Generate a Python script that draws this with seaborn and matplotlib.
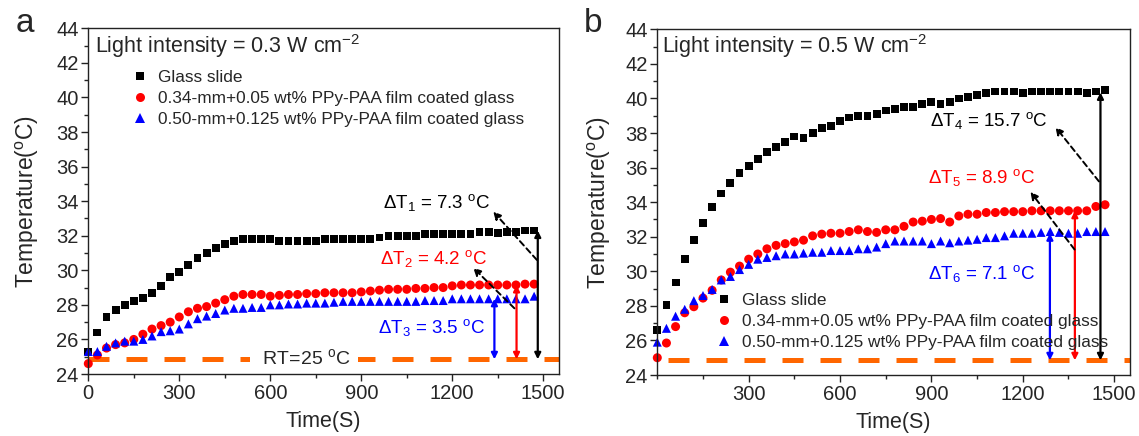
import matplotlib
matplotlib.use("Agg")
import matplotlib.pyplot as plt
import numpy as np
import pandas as pd
import seaborn as sns
from matplotlib.ticker import MultipleLocator, FixedLocator

# ---------------- data ----------------
time_s = [0, 30, 60, 90, 120, 150, 180, 210, 240, 270,
          300, 330, 360, 390, 420, 450, 480, 510, 540, 570,
          600, 630, 660, 690, 720, 750, 780, 810, 840, 870,
          900, 930, 960, 990, 1020, 1050, 1080, 1110, 1140, 1170,
          1200, 1230, 1260, 1290, 1320, 1350, 1380, 1410, 1440, 1470]

series_labels = ["Glass slide",
                 "0.34-mm+0.05 wt% PPy-PAA film coated glass",
                 "0.50-mm+0.125 wt% PPy-PAA film coated glass"]

# panel a : 0.3 W cm-2
glass_a = [25.3, 26.4, 27.3, 27.7, 28.0, 28.2, 28.4, 28.7, 29.1, 29.6,
           29.9, 30.3, 30.7, 31.0, 31.3, 31.5, 31.7, 31.8, 31.8, 31.8,
           31.8, 31.7, 31.7, 31.7, 31.7, 31.7, 31.8, 31.8, 31.8, 31.8,
           31.8, 31.8, 31.9, 32.0, 32.0, 32.0, 32.0, 32.1, 32.1, 32.1,
           32.1, 32.1, 32.1, 32.2, 32.2, 32.15, 32.2, 32.2, 32.3, 32.3]
film034_a = [24.6, 25.1, 25.5, 25.7, 25.8, 26.0, 26.3, 26.6, 26.8, 27.0,
             27.3, 27.6, 27.8, 27.9, 28.1, 28.3, 28.5, 28.6, 28.6, 28.6,
             28.5, 28.55, 28.6, 28.6, 28.65, 28.65, 28.7, 28.7, 28.7, 28.7,
             28.75, 28.8, 28.85, 28.9, 28.9, 28.9, 28.95, 28.95, 29.0, 29.0,
             29.1, 29.15, 29.15, 29.15, 29.15, 29.15, 29.15, 29.15, 29.2, 29.2]
film050_a = [25.3, 25.3, 25.6, 25.8, 25.9, 25.9, 26.0, 26.2, 26.45, 26.5,
             26.6, 26.9, 27.2, 27.35, 27.5, 27.7, 27.8, 27.8, 27.85, 27.85,
             28.0, 28.0, 28.05, 28.05, 28.1, 28.1, 28.1, 28.15, 28.2, 28.2,
             28.2, 28.2, 28.2, 28.2, 28.2, 28.2, 28.2, 28.25, 28.25, 28.25,
             28.35, 28.35, 28.35, 28.35, 28.35, 28.35, 28.35, 28.35, 28.35, 28.5]

# panel b : 0.5 W cm-2
glass_b = [26.6, 28.05, 29.35, 30.7, 31.8, 32.8, 33.7, 34.5, 35.1, 35.7,
           36.1, 36.5, 36.9, 37.2, 37.5, 37.8, 37.7, 38.0, 38.3, 38.4,
           38.7, 38.9, 39.0, 39.0, 39.1, 39.3, 39.4, 39.5, 39.5, 39.7,
           39.8, 39.7, 39.8, 40.0, 40.1, 40.2, 40.3, 40.4, 40.4, 40.4,
           40.3, 40.4, 40.4, 40.4, 40.4, 40.4, 40.4, 40.3, 40.4, 40.5]
film034_b = [25.0, 25.85, 26.8, 27.6, 27.95, 28.45, 28.9, 29.5, 29.95, 30.3,
             30.7, 31.0, 31.3, 31.5, 31.6, 31.7, 31.8, 32.05, 32.15, 32.2,
             32.2, 32.3, 32.4, 32.3, 32.25, 32.4, 32.4, 32.6, 32.85, 32.9,
             33.0, 33.05, 32.85, 33.2, 33.3, 33.3, 33.4, 33.4, 33.45, 33.45,
             33.45, 33.5, 33.5, 33.5, 33.5, 33.5, 33.5, 33.5, 33.75, 33.85]
film050_b = [25.9, 26.7, 27.4, 27.8, 28.3, 28.6, 28.95, 29.5, 29.7, 30.1,
             30.4, 30.7, 30.8, 30.9, 31.0, 31.0, 31.05, 31.1, 31.1, 31.2,
             31.2, 31.2, 31.3, 31.3, 31.4, 31.6, 31.75, 31.75, 31.75, 31.75,
             31.6, 31.75, 31.65, 31.75, 31.8, 31.85, 31.95, 31.95, 32.05, 32.2,
             32.2, 32.2, 32.25, 32.3, 32.25, 32.2, 32.2, 32.3, 32.3, 32.3]

rt_line = 24.85  # room-temperature reference line

# delta-T annotations: (label, color, arrow time, top temperature)
delta_a = [("$\\Delta$T$_1$ = 7.3 $^{o}$C", "black", 1482, 32.3),
           ("$\\Delta$T$_2$ = 4.2 $^{o}$C", "#FF0000", 1412, 29.15),
           ("$\\Delta$T$_3$ = 3.5 $^{o}$C", "#0000FF", 1339, 28.35)]
delta_b = [("$\\Delta$T$_4$ = 15.7 $^{o}$C", "black", 1455, 40.35),
           ("$\\Delta$T$_5$ = 8.9 $^{o}$C", "#FF0000", 1371, 33.5),
           ("$\\Delta$T$_6$ = 7.1 $^{o}$C", "#0000FF", 1289, 32.2)]

# ---------------- style ----------------
sns.set_theme(style="white")
plt.rcParams["font.family"] = ["Liberation Sans", "DejaVu Sans"]
plt.rcParams["mathtext.fontset"] = "custom"
plt.rcParams["mathtext.rm"] = "Liberation Sans"
plt.rcParams["mathtext.it"] = "Liberation Sans:italic"
plt.rcParams["mathtext.bf"] = "Liberation Sans:bold"
plt.rcParams["mathtext.default"] = "regular"

palette = {series_labels[0]: "#000000", series_labels[1]: "#FF0000", series_labels[2]: "#0000FF"}
markers = {series_labels[0]: "s", series_labels[1]: "o", series_labels[2]: "^"}
sizes = {series_labels[0]: 32, series_labels[1]: 42, series_labels[2]: 42}


def make_df(a, b, c):
    frames = []
    for lab, vals in zip(series_labels, (a, b, c)):
        frames.append(pd.DataFrame({"time": time_s, "temp": vals, "series": lab}))
    return pd.concat(frames, ignore_index=True)


df_a = make_df(glass_a, film034_a, film050_a)
df_b = make_df(glass_b, film034_b, film050_b)

W, H = 1139, 436
fig = plt.figure(figsize=(W / 100, H / 100), dpi=100)
ax_a = fig.add_axes([88.3 / W, 1 - 374 / H, (559 - 88.3) / W, (374 - 28.3) / H])
ax_b = fig.add_axes([657.3 / W, 1 - 375 / H, (1129.7 - 657.3) / W, (375 - 29.3) / H])

for ax, df in ((ax_a, df_a), (ax_b, df_b)):
    sns.scatterplot(data=df, x="time", y="temp", hue="series", style="series",
                    palette=palette, markers=markers, size="series", sizes=sizes,
                    linewidth=0, ax=ax, zorder=3, clip_on=False)

ax_a.set_xlim(0, 1552)
ax_b.set_xlim(0, 1551)
for ax in (ax_a, ax_b):
    ax.set_ylim(24, 44)
    ax.yaxis.set_major_locator(MultipleLocator(2))
    ax.yaxis.set_minor_locator(MultipleLocator(1))
    ax.xaxis.set_minor_locator(MultipleLocator(150))
    for sp in ax.spines.values():
        sp.set_color("#222222")
        sp.set_linewidth(1.0)
        sp.set_zorder(6)
    ax.tick_params(axis="both", which="major", direction="out", length=5, width=1,
                   color="#222222", labelsize=14.5, pad=2, bottom=True, left=True,
                   top=False, right=False)
    ax.tick_params(axis="both", which="minor", direction="out", length=3, width=1,
                   color="#222222", bottom=True, left=True, top=False, right=False)
    ax.set_xlabel("Time(S)", fontsize=15.5)
    ax.set_ylabel("Temperature($^{o}$C)", fontsize=16.5)
    ax.xaxis.set_label_coords(0.5, -0.108)

ax_a.xaxis.set_major_locator(FixedLocator([0, 300, 600, 900, 1200, 1500]))
ax_b.xaxis.set_major_locator(FixedLocator([300, 600, 900, 1200, 1500]))
ax_a.yaxis.set_label_coords(-0.100, 0.5)
ax_b.yaxis.set_label_coords(-0.093, 0.5)

# room temperature dashed lines
ax_a.plot([0, 1552], [rt_line, rt_line], color="#FF6600", lw=3.6,
          linestyle=(0, (4.2, 3.4)), zorder=2, solid_capstyle="butt")
ax_b.plot([35, 1551], [rt_line, rt_line], color="#FF6600", lw=3.6,
          linestyle=(0, (4.2, 3.4)), zorder=2, solid_capstyle="butt")
ax_a.text(712, 24.95, "  RT=25 $^{o}$C  ", fontsize=14, ha="center", va="center",
          zorder=4, bbox=dict(facecolor="white", edgecolor="none", pad=1.0))

# light intensity titles
ax_a.text(0.014, 0.949, "Light intensity = 0.3 W cm$^{-2}$", transform=ax_a.transAxes,
          fontsize=15.5, ha="left", va="center")
ax_b.text(0.010, 0.952, "Light intensity = 0.5 W cm$^{-2}$", transform=ax_b.transAxes,
          fontsize=15.5, ha="left", va="center")

# panel letters
fig.text(25 / W, 1 - 24 / H, "a", fontsize=24, ha="center", va="center")
fig.text(593 / W, 1 - 24 / H, "b", fontsize=24, ha="center", va="center")

# vertical double arrows
for ax, items in ((ax_a, delta_a), (ax_b, delta_b)):
    for lab, col, tx, top in items:
        ax.annotate("", xy=(tx, top), xytext=(tx, rt_line),
                    arrowprops=dict(arrowstyle="<|-|>", color=col, lw=1.6,
                                    mutation_scale=9, shrinkA=0, shrinkB=0),
                    zorder=5)

# delta-T labels
text_pos_a = [(1150, 33.9), (1138, 30.7), (1132, 26.7)]
text_pos_b = [(1088, 38.7), (1064, 35.45), (1064, 29.9)]
for ax, items, pos in ((ax_a, delta_a, text_pos_a), (ax_b, delta_b, text_pos_b)):
    for (lab, col, tx, top), (px, py) in zip(items, pos):
        ax.text(px, py, lab, color=col, fontsize=13.5, ha="center", va="center", zorder=6)

# dashed pointer arrows
pointers_a = [((1479, 30.6), (1335, 33.4)), ((1405, 27.8), (1269, 30.15))]
pointers_b = [((1450, 35.2), (1307, 38.35)), ((1370, 31.26), (1225, 34.6))]
for ax, ptrs in ((ax_a, pointers_a), (ax_b, pointers_b)):
    for start, end in ptrs:
        ax.annotate("", xy=end, xytext=start,
                    arrowprops=dict(arrowstyle="-|>", color="black", lw=1.4,
                                    linestyle=(0, (3, 2)), mutation_scale=11,
                                    shrinkA=0, shrinkB=0),
                    zorder=5)

# legends
sns.move_legend(ax_a, "upper left", bbox_to_anchor=((131 - 88.3) / 470.7, (374 - 70) / 345.7),
                frameon=False, title=None, fontsize=12.4, handlelength=1.0,
                handletextpad=0.55, labelspacing=0.34, borderpad=0, borderaxespad=0,
                markerscale=1.0)
sns.move_legend(ax_b, "upper left", bbox_to_anchor=((715 - 657.3) / 472.4, (375 - 293) / 345.7),
                frameon=False, title=None, fontsize=12.4, handlelength=1.0,
                handletextpad=0.55, labelspacing=0.34, borderpad=0, borderaxespad=0,
                markerscale=1.0)

fig.savefig("out.png", dpi=100)
